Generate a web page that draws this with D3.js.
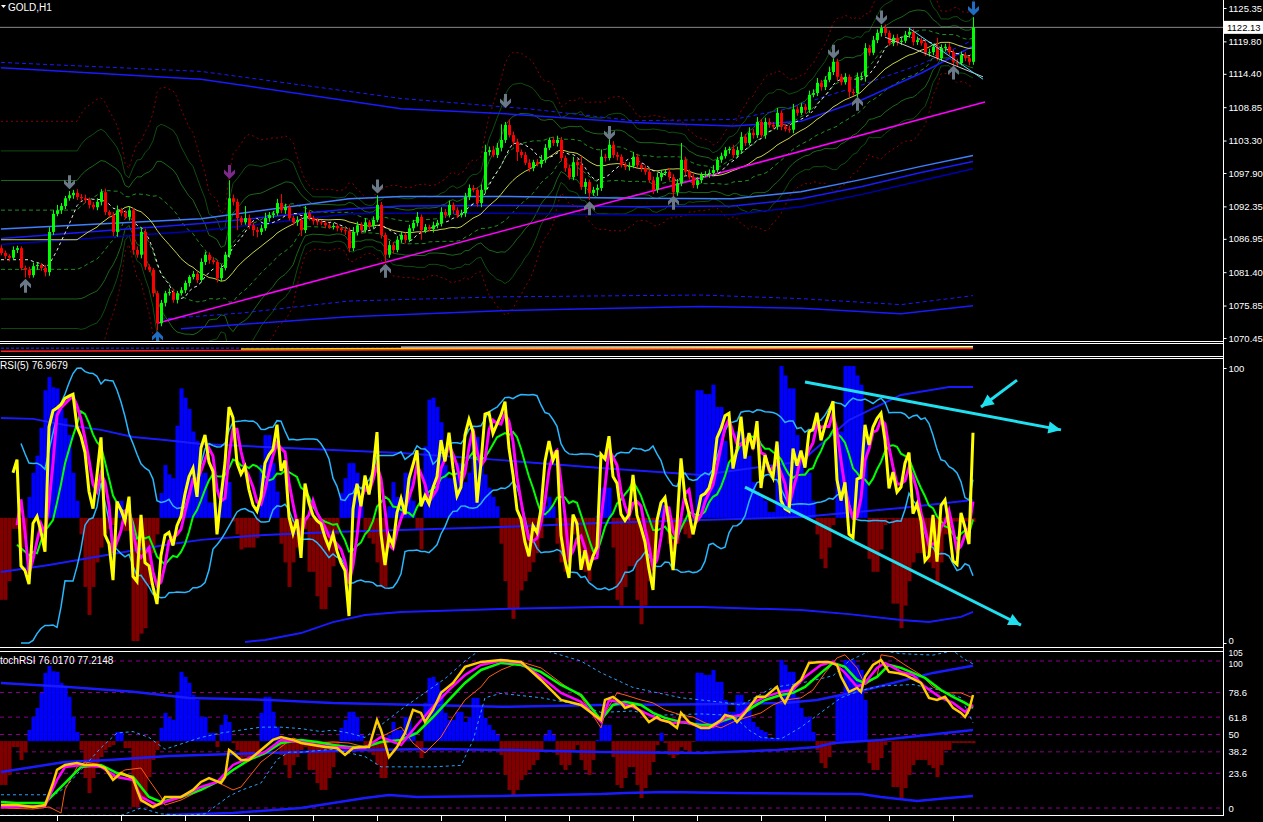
<!DOCTYPE html>
<html><head><meta charset="utf-8">
<script src="https://cdn.jsdelivr.net/npm/d3@7"></script>
<style>body{margin:0;background:#000;overflow:hidden}svg{display:block}text{font-family:"Liberation Sans",Arial,sans-serif}</style>
</head><body>
<svg id="c" width="1263" height="822"></svg>
<script>
// ---------------- DATA ----------------
const symbolTitle = "GOLD,H1";
const rsiTitle = "RSI(5) 76.9679";
const stochTitle = "tochRSI 76.0170 77.2148";
const firstOpen = 1085.4;
const closes = [
1084.6,1084.1,1083.8,1085.1,1085.4,1082.1,1081.8,1080.9,1082.4,1082.6,
1082.1,1081.4,1088.1,1091.1,1091.7,1092.4,1093.7,1094.2,1094.6,1093.9,
1093.7,1093.4,1092.6,1092.2,1093.1,1094.7,1091.4,1090.9,1088.1,1091.7,
1091.2,1090.6,1091.7,1085.1,1084.3,1088.1,1082.3,1081.8,1077.9,1072.9,
1076.3,1077.9,1078.1,1076.8,1077.9,1078.4,1079.6,1080.6,1081.1,1080.1,
1083.1,1084.3,1083.4,1083.1,1080.4,1082.1,1084.3,1093.7,1093.1,1090.4,
1089.7,1090.4,1089.2,1088.4,1088.1,1088.7,1090.4,1090.9,1091.2,1092.9,
1091.7,1092.2,1090.4,1089.7,1090.1,1088.4,1091.2,1090.4,1089.9,1089.7,
1089.6,1089.2,1088.9,1089.1,1088.7,1088.4,1088.2,1085.4,1088.1,1089.2,
1088.4,1089.7,1089.1,1090.1,1092.6,1087.6,1084.3,1085.9,1085.1,1086.8,
1087.6,1086.8,1088.7,1089.6,1090.6,1088.4,1088.9,1088.6,1089.2,1089.6,
1091.4,1090.9,1092.6,1091.7,1090.9,1091.2,1093.9,1095.4,1095.1,1092.9,
1095.1,1101.4,1101.7,1100.9,1102.1,1103.4,1105.9,1104.2,1103.1,1101.4,
1100.9,1099.6,1098.7,1099.7,1099.4,1100.1,1102.1,1103.4,1102.9,1103.4,
1100.4,1098.7,1097.2,1099.7,1099.2,1095.6,1096.4,1094.6,1095.1,1095.4,
1100.6,1100.4,1102.6,1100.9,1100.6,1099.2,1098.9,1099.1,1100.6,1099.2,
1098.7,1098.1,1096.7,1095.1,1097.2,1097.9,1098.1,1097.2,1094.7,1096.2,
1100.1,1098.1,1097.2,1095.9,1096.7,1097.6,1097.7,1097.9,1098.4,1100.1,
1100.7,1101.7,1101.9,1100.9,1101.7,1103.9,1102.9,1104.6,1104.2,1106.4,
1104.2,1106.4,1105.9,1105.6,1107.9,1105.6,1105.2,1105.1,1108.5,1107.9,
1108.9,1108.4,1110.9,1111.2,1112.9,1112.2,1113.4,1114.7,1116.4,1113.9,
1113.0,1113.9,1111.4,1111.2,1113.9,1114.0,1118.7,1117.9,1120.0,1121.2,
1122.0,1121.2,1119.5,1120.4,1119.7,1119.9,1120.9,1121.4,1119.7,1120.0,
1119.5,1117.9,1118.0,1118.9,1117.0,1118.7,1118.9,1118.0,1116.4,1116.2,
1117.5,1117.0,1116.4,1122.13];
const wickUp = [
0.5,0.4,0.3,0.6,0.4,0.3,0.4,0.5,0.6,0.4, 0.3,0.5,0.8,0.6,0.9,0.5,0.4,0.7,0.5,0.6,
0.5,0.6,0.4,0.5,0.6,0.5,0.6,0.3,0.5,0.8, 0.4,0.5,0.6,0.4,0.6,0.8,0.5,0.4,0.3,0.4,
0.5,0.4,0.6,0.5,0.4,0.5,0.4,0.3,0.5,0.4, 0.6,0.5,0.4,0.5,0.3,0.6,0.5,3.0,0.6,0.5,
0.4,2.0,0.6,0.4,0.5,0.6,0.9,0.5,0.4,0.7, 1.5,0.6,0.5,0.4,0.6,0.5,1.2,0.5,0.4,0.5,
0.4,0.3,0.4,0.5,0.4,0.3,0.5,0.6,0.8,0.6, 0.5,0.7,0.4,0.6,1.6,0.5,0.4,0.7,0.5,0.6,
0.5,0.4,0.6,0.5,0.8,0.4,0.5,0.4,0.6,0.5, 0.8,0.5,0.7,0.4,0.5,0.6,0.7,0.6,0.5,0.4,
0.9,1.2,0.6,0.7,0.8,2.6,0.5,0.9,0.6,0.5, 0.4,0.5,0.6,0.4,0.5,0.8,0.6,0.4,0.5,0.7,
0.5,0.4,0.6,0.9,0.5,1.5,0.6,0.4,0.5,0.6, 1.2,0.5,1.5,0.6,0.5,0.4,0.5,0.6,0.8,0.5,
0.4,0.5,0.4,0.6,0.7,0.5,0.4,0.6,0.5,0.7, 2.8,0.5,0.4,0.6,0.5,0.4,0.5,0.6,0.8,0.5,
0.6,0.5,0.4,0.7,0.6,0.8,0.5,0.9,0.6,0.8, 0.5,0.7,0.6,0.5,0.8,0.4,0.5,0.6,0.9,0.5,
0.6,0.5,0.7,0.6,0.8,0.5,0.6,0.9,0.6,0.5, 0.5,0.6,0.4,0.5,0.7,0.6,0.8,0.5,0.7,0.6,
0.5,0.6,0.4,0.5,0.6,0.5,0.6,0.7,0.5,0.6, 0.5,0.4,0.6,0.5,1.5,0.6,0.5,0.6,0.4,0.5,
0.6,0.5,0.4,1.7];
const wickDn = [
0.4,0.5,0.6,0.3,0.5,0.4,1.3,0.5,0.4,0.6, 0.5,0.7,0.6,0.5,0.4,0.6,0.5,0.4,0.6,0.5,
0.4,0.5,0.6,0.4,0.5,0.6,0.5,0.4,0.7,0.8, 0.5,0.4,0.6,0.8,0.5,0.6,0.5,0.4,0.6,1.2,
0.5,0.6,0.4,0.5,0.6,0.4,0.5,0.6,0.4,0.5, 0.4,0.5,0.6,0.4,0.7,0.5,0.4,0.5,0.6,2.0,
0.5,0.4,0.6,1.0,0.9,0.5,0.4,0.6,0.5,0.4, 0.5,0.6,0.4,0.5,0.6,1.0,0.5,0.4,0.6,0.5,
0.4,0.5,0.3,0.4,0.5,0.4,0.6,0.7,0.5,0.6, 0.5,0.4,0.6,0.5,0.4,0.6,1.4,0.5,0.6,0.4,
0.5,0.6,0.4,0.5,0.6,1.6,0.5,0.4,0.6,0.5, 0.6,0.5,0.4,0.6,0.5,0.4,0.6,0.5,0.4,0.6,
0.7,0.5,0.6,0.4,0.5,0.6,0.5,0.4,0.6,1.5, 0.5,0.4,0.6,0.5,0.4,0.6,0.5,0.4,0.5,0.6,
0.5,0.6,0.4,0.5,1.8,0.5,1.2,1.2,0.5,1.0, 0.5,0.6,0.4,0.5,0.6,0.4,0.5,0.6,0.4,0.5,
0.6,0.5,0.4,0.7,0.5,0.6,0.4,0.5,1.1,0.6, 0.5,0.6,0.4,0.5,0.6,0.5,0.4,0.6,0.5,0.4,
0.5,0.4,0.6,0.5,0.4,0.6,0.5,0.4,0.6,0.5, 0.4,0.6,0.5,0.4,0.5,0.6,0.4,0.5,0.6,0.5,
0.4,0.6,0.5,0.4,0.5,0.6,0.5,0.4,0.5,0.6, 0.5,0.4,0.9,0.5,2.3,0.6,0.9,0.5,0.4,0.5,
0.6,0.5,0.4,0.5,0.6,0.5,0.4,0.5,0.6,0.5, 0.4,0.5,0.6,0.5,0.4,0.5,0.6,0.5,0.7,0.5,
0.4,0.5,0.6,0.5];
const histValues = [
15.7,15.7,22.5,41.5,41.5,32.7,38.1,53.1,61.9,68.1, 78.3,91.9,96.7,93.0,92.6,85.1,81.7,75.6,61.9,51.7,
39.5,20.4,10.2,20.4,29.3,34.7,39.5,41.5,42.9,51.7, 51.7,40.8,40.8,0.7,0.7,3.4,5.4,21.1,32.7,39.5,
54.5,64.7,61.3,59.9,79.0,92.6,89.2,85.1,76.9,73.5, 61.9,61.9,51.1,51.1,41.5,56.5,63.3,58.5,44.2,39.5,
34.0,34.7,34.7,34.7,38.1,64.7,75.6,75.6,65.4,55.1, 36.1,29.3,20.4,29.3,34.7,39.5,41.5,25.9,25.9,17.0,
12.3,12.3,20.4,27.9,39.5,54.5,59.9,65.4,65.4,61.9, 49.7,39.5,38.1,36.1,29.3,20.4,20.4,49.7,58.5,53.1,
53.1,61.9,61.9,51.7,41.5,34.0,71.5,88.5,89.2,85.8, 80.3,64.7,59.9,59.9,65.4,65.4,58.5,61.9,74.9,74.9,
68.8,61.3,56.5,53.1,49.7,36.1,22.5,12.3,8.8,12.3, 19.1,22.5,25.9,29.3,32.7,38.1,49.7,53.1,49.7,36.1,
29.3,25.9,29.3,39.5,42.9,32.7,25.9,22.5,32.7,46.3, 56.5,56.5,56.5,34.7,15.7,13.6,20.4,27.9,27.9,15.7,
6.8,13.6,22.5,31.3,42.9,51.1,44.2,36.1,34.0,36.1, 41.5,39.5,38.1,44.9,91.9,91.9,90.5,90.5,93.9,85.8,
85.8,73.5,65.4,65.4,76.9,76.9,71.5,68.1,58.5,55.1, 53.1,51.7,47.6,47.6,72.2,100.7,97.3,92.6,92.6,75.6,
68.1,61.9,61.9,51.7,39.5,30.6,27.2,34.7,42.9,76.9, 76.9,100.7,100.7,100.7,97.3,93.9,73.5,30.6,25.9,25.9,
34.0,42.9,44.9,14.3,14.3,5.4,13.6,22.5,29.3,32.7, 32.7,32.7,29.3,27.2,21.1,29.3,39.5,39.5,44.2,44.2,
44.2,44.2,44.2,44.0];
const histBase = 45.5;
const priceTicks = [1125.35,1119.80,1114.40,1108.85,1103.30,1097.90,1092.35,1086.95,1081.40,1075.85,1070.45];
const lastPrice = 1122.13;
const rsiTicks = [100, 0];
const stochLevels = [100, 78.6, 61.8, 50, 38.2, 23.6, 0];
const stochLabelVals = [105, 100, 78.6, 61.8, 50, 38.2, 23.6, 0];
const timeTickBars = [14,30,46,62,78,94,110,126,142,158,174,190,206,222,238];
// long-period blue bands on the price chart: [bar, price]
const blueUpperSolid = [[0,1115.4],[50,1113.5],[100,1108.6],[125,1107.8],[158,1106.3],[183,1105.7],[200,1106.5],[215,1110.0],[230,1114.5],[243,1119.0]];
const blueUpperDash = [[0,1116.3],[50,1114.8],[100,1110.3],[133,1108.5],[158,1106.6],[183,1106.8],[196,1108.5],[215,1112.5],[230,1116.0],[243,1120.0]];
const blueMidLight = [[0,1088.6],[50,1090.3],[87,1093.6],[100,1094.0],[125,1094.0],[158,1093.7],[183,1093.6],[200,1094.8],[215,1096.8],[230,1099.0],[243,1100.8]];
const blueMid = [[0,1087.0],[50,1089.5],[87,1091.9],[100,1092.4],[125,1092.5],[158,1092.3],[183,1092.4],[200,1093.6],[215,1095.6],[230,1098.0],[243,1099.8]];
const blueMidDark = [[0,1086.0],[50,1088.3],[87,1091.1],[100,1091.2],[125,1091.2],[158,1090.9],[183,1091.0],[200,1092.3],[215,1094.3],[230,1096.6],[243,1098.6]];
const blueLowDash = [[40,1073.6],[60,1074.6],[87,1076.6],[125,1077.3],[175,1077.6],[200,1077.0],[225,1076.0],[243,1077.5]];
const blueLowSolid = [[45,1072.0],[87,1074.0],[125,1075.0],[175,1075.7],[200,1075.4],[225,1074.5],[243,1075.8]];
// drawn objects
const trendMagenta = [[39,1072.9],[246,1109.7]];
const trendCyan = [[227,1122.0],[245.5,1113.5]];
const trendSilver = [[221,1120.5],[245.5,1113.9]];
const arrowsDown = [[17,1095.2,"#6b7888"],[94,1094.5,"#6b7888"],[126,1108.7,"#6b7888"],[152,1103.4,"#6b7888"],[208,1116.9,"#6b7888"],[220,1122.6,"#6b7888"],[57,1096.9,"#7d2a8c"],[243,1124.1,"#1f6cc0"],[243,1126.6,"#6b7888"]];
const arrowsUp = [[6,1080.3,"#6b7888"],[96,1082.8,"#6b7888"],[147,1093.2,"#6b7888"],[168,1094.1,"#6b7888"],[214,1110.6,"#6b7888"],[238,1115.8,"#6b7888"],[39,1071.6,"#1f6cc0"]];
// RSI pane slow blue lines: [bar, value]
const rsiBlueUpper = [[0,81.8],[8,81.5],[16,79.3],[25,77.5],[33,74.9],[41,73.8],[50,72.4],[66,71.3],[83,70.2],[100,69.1],[125,66.5],[150,63.6],[175,61.1],[200,66],[212,81.1],[225,90.2],[237,93.1],[243,93.1]];
const rsiBlueMid = [[0,25.8],[12,28.4],[25,31.6],[41,35.6],[50,37.5],[66,39.3],[83,40.4],[100,41.1],[125,42.2],[150,43.6],[175,44.7],[200,45.8],[225,49.1],[243,52.0]];
const rsiBlueLow = [[61,0.4],[66,1.1],[75,3.6],[83,7.6],[91,10.2],[100,11.3],[125,12.4],[150,13.1],[175,13.1],[200,12.0],[212,10.5],[225,8.4],[232,7.6],[240,9.5],[243,11.3]];
const rsiArrows = [[[201,94.9],[265,77.5]],[[186,56.7],[255,6.5]],[[254,95.6],[245,85.8]]];
// StochRSI pane lines: [bar, value]
const stochMain = [[0,2.0],[4,2.0],[8,0.7],[11,2.0],[13,17.0],[14,25.9],[16,29.3],[19,30.6],[21,29.3],[24,29.3],[26,27.2],[28,19.1],[30,23.8],[33,20.4],[34,12.3],[35,5.4],[38,0.7],[40,3.4],[41,7.5],[45,7.5],[48,12.3],[50,17.7],[52,20.4],[55,17.0],[56,21.1],[57,39.5],[58,37.4],[60,32.7],[62,32.7],[65,39.5],[68,46.3],[70,48.3],[73,46.3],[75,44.2],[78,42.9],[81,41.5],[84,40.8],[86,36.1],[88,40.8],[90,41.5],[92,41.5],[94,59.9],[95,53.1],[97,34.7],[99,41.5],[101,51.1],[103,66.7],[105,64.7],[106,58.5],[108,66.7],[110,78.3],[113,85.1],[116,96.0],[120,99.4],[125,100.7],[130,99.4],[135,87.1],[140,73.5],[145,70.1],[150,59.9],[151,73.5],[153,75.6],[155,71.5],[156,68.1],[158,70.1],[160,65.4],[162,58.5],[164,61.9],[165,59.9],[167,58.5],[169,54.5],[170,64.7],[172,58.5],[175,54.5],[177,54.5],[180,59.9],[181,63.3],[183,61.9],[184,58.5],[186,64.7],[189,75.6],[191,75.6],[194,82.4],[195,75.6],[196,71.5],[198,82.4],[200,87.1],[202,98.7],[205,99.4],[207,99.4],[209,97.3],[210,89.2],[212,79.0],[214,81.7],[215,79.0],[216,89.2],[218,97.3],[220,100.7],[222,92.6],[224,91.9],[226,90.5],[230,85.1],[232,74.9],[234,73.5],[236,75.6],[238,68.1],[240,64.7],[241,61.9],[242,66.7],[243,76.9]];
const stochSignal = [[0,0.7],[11,1.4],[14,19.1],[16,27.9],[20,29.3],[25,27.9],[29,21.1],[33,19.1],[35,7.5],[39,2.0],[41,4.1],[45,7.5],[50,14.3],[54,17.7],[58,29.3],[62,34.0],[66,38.1],[70,46.3],[75,44.9],[79,42.9],[83,41.5],[87,40.8],[91,40.8],[95,48.3],[100,42.9],[104,56.5],[108,68.8],[112,80.3],[116,90.5],[120,97.3],[125,100.1],[130,98.7],[135,89.2],[140,78.3],[145,72.2],[150,58.5],[152,73.5],[155,71.5],[158,68.8],[161,64.7],[165,59.9],[168,57.9],[171,58.5],[175,55.1],[178,55.1],[181,61.3],[185,63.3],[188,71.5],[191,75.6],[195,79.0],[198,80.3],[201,89.2],[205,97.3],[208,99.4],[211,91.9],[214,82.4],[216,85.1],[219,95.3],[221,98.7],[225,92.6],[228,90.5],[231,82.4],[235,74.9],[238,71.5],[241,65.4],[243,70.1]];
const stochSlow = [[0,4.1],[4,3.4],[11,3.4],[16,17.0],[20,27.9],[25,29.3],[29,23.8],[33,21.1],[37,7.5],[40,4.1],[45,7.5],[50,12.3],[54,17.7],[58,25.9],[62,32.7],[66,37.4],[70,44.2],[75,46.3],[79,44.9],[83,42.9],[87,41.5],[91,41.5],[95,44.9],[100,46.3],[104,51.1],[108,61.9],[112,73.5],[116,85.1],[120,93.9],[125,98.7],[130,97.3],[135,92.6],[140,83.7],[145,76.9],[150,59.9],[153,70.1],[156,72.2],[160,70.1],[163,64.7],[166,61.3],[170,58.5],[175,56.5],[178,56.5],[181,59.9],[185,63.3],[188,68.8],[191,73.5],[195,76.9],[198,78.3],[201,82.4],[205,91.9],[208,98.7],[211,96.0],[214,87.1],[216,85.1],[219,89.2],[222,97.3],[225,95.3],[228,91.9],[231,88.5],[235,80.3],[238,75.6],[241,71.5],[243,68.1]];
const stochThin = [[0,0],[8,-0.7],[12,0.7],[15,-3.4],[16,12.3],[19,27.9],[21,31.3],[25,29.3],[28,21.1],[31,25.9],[35,27.2],[37,19.1],[40,7.5],[41,2.0],[45,5.4],[50,12.3],[54,17.7],[58,12.3],[60,14.3],[65,31.3],[69,39.5],[73,47.6],[76,44.9],[80,44.2],[83,44.9],[87,44.2],[91,41.5],[95,48.3],[97,51.1],[100,55.1],[103,44.2],[106,37.4],[110,48.3],[113,61.9],[116,73.5],[120,82.4],[122,89.2],[125,93.9],[130,99.4],[135,95.3],[140,85.1],[145,75.6],[150,54.5],[151,64.7],[154,78.3],[156,76.9],[160,73.5],[163,71.5],[166,66.7],[170,63.3],[173,61.9],[176,57.9],[180,54.5],[183,58.5],[186,61.3],[190,64.7],[193,70.1],[196,73.5],[200,74.9],[203,80.3],[206,91.9],[209,102.1],[211,104.2],[214,95.3],[216,83.7],[219,89.2],[220,104.2],[223,102.8],[226,97.3],[230,90.5],[233,82.4],[236,78.3],[240,78.3],[243,74.9]];
const stochBandUp = [[0,9],[11,9],[14,10],[16,14],[20,26],[25,41],[29,51],[33,52],[37,48],[41,40],[50,48],[55,51],[60,53],[65,55],[70,55],[75,54],[80,52],[83,53],[87,51],[91,48],[100,67],[111,88],[116,100],[120,108],[125,110],[135,108],[145,100],[150,92],[158,82],[163,79],[170,75],[180,72],[185,70],[193,82],[200,85],[205,88],[208,90],[212,100],[218,108],[225,105],[233,104],[238,107],[241,101],[243,98]];
const stochBandDn = [[0,-5],[30,-5],[35,0],[40,-4],[46,-5],[51,-4],[57,8],[60,12],[65,17],[69,33],[72,38],[75,38],[83,40],[91,35],[95,28],[104,28],[108,28],[115,29],[118,46],[121,75],[125,78],[135,75],[145,70],[150,65],[158,66],[163,63],[175,64],[183,63],[187,53],[190,48],[195,47],[200,55],[205,65],[210,75],[215,80],[220,83],[228,84],[235,80],[240,75],[243,58]];
const stochBlueUpper = [[0,85.1],[16,82.4],[33,79.0],[47,74.9],[67,73.5],[83,71.5],[125,68.8],[150,70.0],[175,70.5],[196,71.5],[204,73.5],[216,80.3],[233,91.9],[243,96.7]];
const stochBlueMid = [[0,24.5],[8,27.9],[16,31.3],[27,32.7],[42,35.4],[58,36.8],[75,38.1],[91,39.5],[108,40.2],[125,39.5],[150,38.1],[175,37.4],[194,39.5],[204,41.5],[208,44.2],[220,46.3],[243,53.1]];
const stochBlueLow = [[41,-4.8],[58,-3.4],[75,0],[91,6.8],[97,8.8],[104,7.5],[125,8.2],[150,9.5],[156,10.2],[166,10.9],[183,10.2],[215,9.5],[220,7.5],[229,4.8],[237,6.8],[243,8.2]];
// tiny strip window (unit scale 0..1)
const stripBlue = [[0,0.62],[243,0.62]];
const stripRed = [[0,0.35],[60,0.4],[120,0.5],[180,0.55],[243,0.6]];
const stripYellow = [[60,0.55],[120,0.62],[180,0.66],[243,0.72]];
const stripWhite = [[100,0.72],[160,0.74],[243,0.78]];

// ---------------- SCALES ----------------
const W = 1263, H = 822, axisX = 1223;
const FS = 9.5;
const svg = d3.select("#c");
svg.append("rect").attr("width", W).attr("height", H).attr("fill", "#000");
const x = d3.scaleLinear().domain([0, 243]).range([1, 973]);
const yP = d3.scaleLinear().domain([1070.45, 1125.35]).range([338, 8]);
const yStrip = d3.scaleLinear().domain([0, 1]).range([355, 344]);
const yR = d3.scaleLinear().domain([0, 100]).range([643, 368]);
const yS = d3.scaleLinear().domain([0, 100]).range([808, 661]);

const defs = svg.append("defs");
function clip(id, y0, h) { defs.append("clipPath").attr("id", id).append("rect").attr("x", 0).attr("y", y0).attr("width", axisX).attr("height", h); }
clip("cm", 0, 341); clip("cs", 344, 12); clip("cr", 359, 288); clip("cq", 652, 163);
const gMain = svg.append("g").attr("clip-path", "url(#cm)");
const gStrip = svg.append("g").attr("clip-path", "url(#cs)");
const gRsi = svg.append("g").attr("clip-path", "url(#cr)");
const gSt = svg.append("g").attr("clip-path", "url(#cq)");

// ---------------- HELPERS ----------------
const popSd = s => { const m = d3.mean(s); return Math.sqrt(d3.mean(s, v => (v - m) * (v - m))); };
const roll = (arr, n, f) => arr.map((_, i) => f(arr.slice(Math.max(0, i - n + 1), i + 1)));
const rollFull = (arr, n, f) => arr.map((_, i) => f(arr.slice(Math.max(0, i - n + 1), Math.max(i + 1, n))));
function seriesLine(g, arr, ys, color, w, dash, start) {
  g.append("path").datum(arr)
    .attr("d", d3.line().defined((d, i) => i >= (start || 0)).x((d, i) => x(i)).y(d => ys(d)))
    .attr("fill", "none").attr("stroke", color).attr("stroke-width", w)
    .attr("stroke-dasharray", dash || null);
}
function pairLine(g, arr, ys, color, w, dash) {
  g.append("path").datum(arr)
    .attr("d", d3.line().x(d => x(d[0])).y(d => ys(d[1])))
    .attr("fill", "none").attr("stroke", color).attr("stroke-width", w)
    .attr("stroke-dasharray", dash || null);
}

// ---------------- MAIN PRICE PANE ----------------
const opens = closes.map((c, i) => i ? closes[i - 1] : firstOpen);
const ma20 = rollFull(closes, 20, d3.mean), sd20 = rollFull(closes, 20, popSd);
const band = k => ma20.map((m, i) => m + k * sd20[i]);
const ma8 = rollFull(closes, 8, d3.mean);

seriesLine(gMain, band(4), yP, "#8b0000", 1, "2,3");
seriesLine(gMain, band(-4), yP, "#8b0000", 1, "2,3");
[3, -3].forEach(k => seriesLine(gMain, band(k), yP, "#0d4d0d", 1));
[2, -2].forEach(k => seriesLine(gMain, band(k), yP, "#1a661a", 1));
[1, -1].forEach(k => seriesLine(gMain, band(k), yP, "#1f8f1f", 1, "4,3"));
pairLine(gMain, blueUpperSolid, yP, "#1a1aff", 1.5);
pairLine(gMain, blueUpperDash, yP, "#1a1aff", 1, "4,3");
pairLine(gMain, blueMidLight, yP, "#3f7fff", 1.5);
pairLine(gMain, blueMid, yP, "#1a1aff", 1.5);
pairLine(gMain, blueMidDark, yP, "#0000b0", 1.5);
pairLine(gMain, blueLowDash, yP, "#1a1aff", 1, "4,3");
pairLine(gMain, blueLowSolid, yP, "#1a1aff", 1.5);
seriesLine(gMain, ma20, yP, "#c8d24a", 1);
pairLine(gMain, trendMagenta, yP, "#ff00ff", 1.5);
seriesLine(gMain, ma8, yP, "#e8e8e8", 1, "3,3");

gMain.append("line").attr("x1", 0).attr("x2", axisX).attr("y1", yP(lastPrice)).attr("y2", yP(lastPrice)).attr("stroke", "#8a8a8a").attr("stroke-width", 1);

const cg = gMain.append("g");
closes.forEach((c, i) => {
  const o = opens[i], up = c >= o;
  const col = up ? "#00ff00" : "#ff0000";
  const hi = Math.max(o, c) + wickUp[i], lo = Math.min(o, c) - wickDn[i];
  const cx = Math.round(x(i));
  cg.append("line").attr("x1", cx + 0.5).attr("x2", cx + 0.5).attr("y1", yP(hi)).attr("y2", yP(lo)).attr("stroke", col).attr("stroke-width", 1);
  const yt = yP(Math.max(o, c)), yb = yP(Math.min(o, c));
  cg.append("rect").attr("x", cx - 1).attr("y", yt).attr("width", 3).attr("height", Math.max(1, yb - yt)).attr("fill", col);
});

pairLine(gMain, trendSilver, yP, "#c8c8c8", 1);
pairLine(gMain, trendCyan, yP, "#4fe3ff", 1);

const downPath = "M-1.5,-14L1.5,-14L1.5,-6L5.5,-9.5L5.5,-5.5L0,0L-5.5,-5.5L-5.5,-9.5L-1.5,-6Z";
arrowsDown.forEach(a => gMain.append("path").attr("d", downPath).attr("fill", a[2])
  .attr("transform", `translate(${Math.round(x(a[0])) + 0.5},${yP(a[1])})`));
arrowsUp.forEach(a => gMain.append("path").attr("d", downPath).attr("fill", a[2])
  .attr("transform", `translate(${Math.round(x(a[0])) + 0.5},${yP(a[1])}) scale(1,-1)`));

// ---------------- STRIP PANE ----------------
pairLine(gStrip, stripBlue, yStrip, "#2a2aff", 1, "3,2");
pairLine(gStrip, stripRed, yStrip, "#ff2020", 1.5);
pairLine(gStrip, stripYellow, yStrip, "#ffd000", 1.5);
pairLine(gStrip, stripWhite, yStrip, "#ffffff", 1);

// ---------------- RSI PANE ----------------
function rsiCalc(c, n) {
  const out = [50]; let ag = 0, al = 0;
  for (let i = 1; i < c.length; i++) {
    const d = c[i] - c[i - 1], g = Math.max(d, 0), l = Math.max(-d, 0);
    const k = Math.min(i, n);
    ag = (ag * (k - 1) + g) / k; al = (al * (k - 1) + l) / k;
    out.push(al === 0 ? 100 : 100 - 100 / (1 + ag / al));
  }
  return out;
}
const rsi = rsiCalc(closes, 5);
const rsiFast = roll(rsi, 3, d3.mean);
const rsiSlow = roll(rsi, 9, d3.mean);
const rsiMid = roll(rsi, 14, d3.mean), rsiSd = roll(rsi, 14, popSd);
const rsiBandU = rsiMid.map((m, i) => Math.min(100, m + 1.4 * rsiSd[i]));
const rsiBandL = rsiMid.map((m, i) => Math.max(0, m - 1.4 * rsiSd[i]));

function histogram(g, ys) {
  g.append("g").selectAll("rect").data(histValues).join("rect")
    .attr("x", (d, i) => Math.round(x(i)) - 1.5).attr("width", 4)
    .attr("y", d => Math.min(ys(d), ys(histBase)))
    .attr("height", d => Math.abs(ys(d) - ys(histBase)))
    .attr("fill", d => d >= histBase ? "#0000ff" : "#800000");
}
histogram(gRsi, yR);
pairLine(gRsi, rsiBlueUpper, yR, "#1a1aff", 2);
pairLine(gRsi, rsiBlueMid, yR, "#1a1aff", 2);
pairLine(gRsi, rsiBlueLow, yR, "#1a1aff", 2);
seriesLine(gRsi, rsiBandU, yR, "#28b8ff", 1.5, null, 5);
seriesLine(gRsi, rsiBandL, yR, "#28b8ff", 1.5, null, 5);
seriesLine(gRsi, rsiSlow, yR, "#00ff00", 2, null, 4);
seriesLine(gRsi, rsiFast, yR, "#ff00ff", 3, null, 4);
seriesLine(gRsi, rsi, yR, "#ffff00", 3, null, 3);

rsiArrows.forEach(seg => {
  const [a, b] = seg;
  const x1 = x(a[0]), y1 = yR(a[1]), x2 = x(b[0]), y2 = yR(b[1]);
  svg.append("line").attr("x1", x1).attr("y1", y1).attr("x2", x2).attr("y2", y2).attr("stroke", "#20e0f0").attr("stroke-width", 3);
  const ang = Math.atan2(y2 - y1, x2 - x1), L = 14, s = 0.45;
  svg.append("path").attr("d", `M${x2},${y2}L${x2 - L * Math.cos(ang - s)},${y2 - L * Math.sin(ang - s)}L${x2 - L * Math.cos(ang + s)},${y2 - L * Math.sin(ang + s)}Z`).attr("fill", "#20e0f0");
});

// ---------------- STOCH RSI PANE ----------------
stochLevels.forEach(v => gSt.append("line").attr("x1", 0).attr("x2", axisX).attr("y1", yS(v)).attr("y2", yS(v))
  .attr("stroke", "#8b008b").attr("stroke-width", 1).attr("stroke-dasharray", "4,4"));
histogram(gSt, yS);
pairLine(gSt, stochBlueUpper, yS, "#1a1aff", 2.5);
pairLine(gSt, stochBlueMid, yS, "#1a1aff", 2.5);
pairLine(gSt, stochBlueLow, yS, "#1a1aff", 2.5);
pairLine(gSt, stochBandUp, yS, "#2a9fff", 1, "3,3");
pairLine(gSt, stochBandDn, yS, "#2a9fff", 1, "3,3");
pairLine(gSt, stochThin, yS, "#ff5a10", 1);
pairLine(gSt, stochSlow, yS, "#00ff00", 2.5);
pairLine(gSt, stochSignal, yS, "#ff00ff", 2.5);
pairLine(gSt, stochMain, yS, "#ffcc00", 2.5);

// ---------------- FRAME, AXES, TEXT ----------------
const white = "#ffffff";
function hline(y) { svg.append("line").attr("x1", 0).attr("x2", axisX).attr("y1", y).attr("y2", y).attr("stroke", white).attr("stroke-width", 1); }
hline(341.5); hline(343.5); hline(356.5); hline(358.5); hline(647.5); hline(651.5); hline(815.5);
svg.append("line").attr("x1", axisX + 0.5).attr("x2", axisX + 0.5).attr("y1", 0).attr("y2", 816).attr("stroke", white);

function styleAxis(g) {
  g.select(".domain").remove();
  g.selectAll("line").attr("stroke", white);
  g.selectAll("text").attr("fill", white).attr("font-size", FS).attr("font-family", "Liberation Sans, Arial, sans-serif");
  return g;
}
styleAxis(svg.append("g").attr("transform", `translate(${axisX + 0.5},0)`)
  .call(d3.axisRight(yP).tickValues(priceTicks).tickFormat(d3.format(".2f")).tickSize(3).tickPadding(2)));
svg.append("rect").attr("x", axisX + 1).attr("y", yP(lastPrice) - 6.5).attr("width", 39).attr("height", 13).attr("fill", white);
svg.append("text").attr("x", axisX + 4).attr("y", yP(lastPrice)).attr("dy", "0.35em").attr("fill", "#000").attr("font-size", FS).text(d3.format(".2f")(lastPrice));

const gr = styleAxis(svg.append("g").attr("transform", `translate(${axisX + 0.5},0)`)
  .call(d3.axisRight(yR).tickValues(rsiTicks).tickSize(3).tickPadding(2)));
gr.selectAll(".tick").filter(d => d === 0).select("text").attr("dy", "0.1em");
const gq = styleAxis(svg.append("g").attr("transform", `translate(${axisX + 0.5},0)`)
  .call(d3.axisRight(yS).tickValues(stochLabelVals).tickFormat(d => String(d)).tickSize(0).tickPadding(5)));
gq.selectAll(".tick").filter(d => d === 105).select("text").attr("dy", "0.25em").attr("font-size", 8.5);
gq.selectAll(".tick").filter(d => d === 100).select("text").attr("dy", "0.7em").attr("font-size", 8.5);

svg.append("g").selectAll("line").data(timeTickBars).join("line")
  .attr("x1", d => Math.round(x(d)) + 0.5).attr("x2", d => Math.round(x(d)) + 0.5).attr("y1", 816).attr("y2", 821).attr("stroke", white);

svg.append("path").attr("d", "M1,5L6,5L3.5,8Z").attr("fill", white);
svg.append("text").attr("x", 8).attr("y", 11).attr("fill", white).attr("font-size", 10).text(symbolTitle);
svg.append("text").attr("x", 0).attr("y", 369).attr("fill", white).attr("font-size", 10).text(rsiTitle);
svg.append("text").attr("x", 0).attr("y", 664).attr("fill", white).attr("font-size", 10).text(stochTitle);
</script>
</body></html>
